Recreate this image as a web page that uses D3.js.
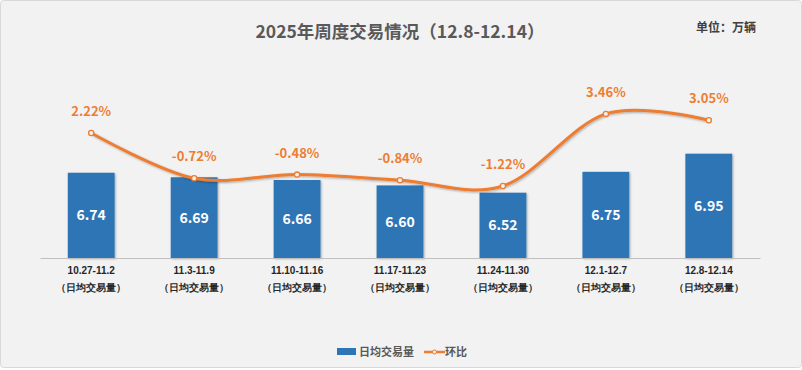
<!DOCTYPE html>
<html>
<head>
<meta charset="utf-8">
<script src="https://cdn.jsdelivr.net/npm/d3@7"></script>
<style>
  body { margin: 0; background: #fff; }
  svg { display: block; font-family: "Noto Sans CJK SC", "Open Sans", sans-serif; }
</style>
</head>
<body>
<div id="chart"></div>
<script>
var svgWidth = 802;
var svgHeight = 370;

var weeks = ["10.27-11.2", "11.3-11.9", "11.10-11.16", "11.17-11.23", "11.24-11.30", "12.1-12.7", "12.8-12.14"];
var dailyVolume = [6.74, 6.69, 6.66, 6.60, 6.52, 6.75, 6.95];
var momChange = [2.22, -0.72, -0.48, -0.84, -1.22, 3.46, 3.05];

var svg = d3.select("#chart")
    .append("svg")
    .attr("width", svgWidth)
    .attr("height", svgHeight);

// drop shadow for marks
var defs = svg.append("defs");
var shadow = defs.append("filter").attr("id", "shadow")
    .attr("x", "-20%").attr("y", "-20%").attr("width", "140%").attr("height", "140%");
shadow.append("feDropShadow")
    .attr("dx", 1).attr("dy", 1).attr("stdDeviation", 1.2)
    .attr("flood-color", "#000").attr("flood-opacity", 0.3);

// background card
svg.append("rect")
    .attr("x", 0.5).attr("y", 0.5)
    .attr("width", svgWidth - 1).attr("height", svgHeight - 3)
    .attr("rx", 3)
    .attr("fill", "#f2f2f2")
    .attr("stroke", "#d9d9d9");

var xScale = d3.scaleBand()
    .domain(weeks)
    .range([40, 760])
    .paddingInner(0.545)
    .paddingOuter(0.27);

var yBar = d3.scaleLinear()
    .domain([5.8, 7.4])
    .range([258, 258 - 1.6 * 90.7]);

var yLine = d3.scaleLinear()
    .domain([0, 4])
    .range([167.2, 167.2 - 4 * 15.4]);

// Title
svg.append("text")
    .attr("x", 400).attr("y", 38)
    .attr("text-anchor", "middle")
    .attr("font-size", 17.5)
    .attr("font-weight", "bold")
    .attr("fill", "#595959")
    .text("2025年周度交易情况（12.8-12.14）");

svg.append("text")
    .attr("x", 756).attr("y", 32)
    .attr("text-anchor", "end")
    .attr("font-size", 12)
    .attr("font-weight", "bold")
    .attr("fill", "#404040")
    .text("单位：万辆");

// Bars
svg.selectAll(".bar")
    .data(dailyVolume)
    .enter()
    .append("rect")
    .attr("class", "bar")
    .attr("x", (d, i) => xScale(weeks[i]))
    .attr("y", d => yBar(d))
    .attr("width", xScale.bandwidth())
    .attr("height", d => yBar.range()[0] - yBar(d))
    .attr("fill", "#2e75b6")
    .attr("filter", "url(#shadow)");

svg.selectAll(".barLabel")
    .data(dailyVolume)
    .enter()
    .append("text")
    .attr("class", "barLabel")
    .attr("x", (d, i) => xScale(weeks[i]) + xScale.bandwidth() / 2)
    .attr("y", d => (yBar(d) + yBar.range()[0]) / 2 + 5)
    .attr("text-anchor", "middle")
    .attr("font-size", 14)
    .attr("font-weight", "bold")
    .attr("fill", "#fff")
    .text(d => d.toFixed(2));

// Bottom axis
var bottomAxis = d3.axisBottom(xScale).tickSize(0).tickPadding(0).tickFormat("");
var axisG = svg.append("g")
    .attr("transform", `translate(0, ${yBar.range()[0]})`)
    .call(bottomAxis);
axisG.select(".domain").attr("stroke", "#bfbfbf").attr("stroke-width", 1.2);

axisG.selectAll(".tick").each(function(d) {
    var g = d3.select(this);
    g.append("text")
        .attr("y", 16)
        .attr("text-anchor", "middle")
        .attr("font-size", 10)
        .attr("font-weight", "bold")
        .attr("fill", "#262626")
        .text(d);
    g.append("text")
        .attr("y", 33)
        .attr("text-anchor", "middle")
        .attr("font-size", 9.5)
        .attr("font-weight", "bold")
        .attr("fill", "#262626")
        .text("（日均交易量）");
});

// Line
var lineGen = d3.line()
    .x((d, i) => xScale(weeks[i]) + xScale.bandwidth() / 2)
    .y(d => yLine(d))
    .curve(d3.curveCatmullRom.alpha(0));

svg.append("path")
    .datum(momChange)
    .attr("d", lineGen)
    .attr("fill", "none")
    .attr("stroke", "#ed7d31")
    .attr("stroke-width", 3)
    .attr("filter", "url(#shadow)");

svg.selectAll(".pt")
    .data(momChange)
    .enter()
    .append("circle")
    .attr("class", "pt")
    .attr("cx", (d, i) => xScale(weeks[i]) + xScale.bandwidth() / 2)
    .attr("cy", d => yLine(d))
    .attr("r", 2.6)
    .attr("fill", "#f2f2f2")
    .attr("stroke", "#ed7d31")
    .attr("stroke-width", 1.3);

svg.selectAll(".ptLabel")
    .data(momChange)
    .enter()
    .append("text")
    .attr("class", "ptLabel")
    .attr("x", (d, i) => xScale(weeks[i]) + xScale.bandwidth() / 2)
    .attr("y", d => yLine(d) - 17)
    .attr("text-anchor", "middle")
    .attr("font-size", 13)
    .attr("font-weight", "bold")
    .attr("fill", "#ed7d31")
    .text(d => d.toFixed(2) + "%");

// Legend
var legend = svg.append("g").attr("transform", "translate(337, 352)");
legend.append("rect")
    .attr("x", 0).attr("y", -4)
    .attr("width", 19).attr("height", 7)
    .attr("fill", "#2e75b6");
legend.append("text")
    .attr("x", 22).attr("y", 4)
    .attr("font-size", 11)
    .attr("font-weight", "bold")
    .attr("fill", "#595959")
    .text("日均交易量");
legend.append("line")
    .attr("x1", 87).attr("x2", 108)
    .attr("y1", 0).attr("y2", 0)
    .attr("stroke", "#ed7d31")
    .attr("stroke-width", 2.5);
legend.append("circle")
    .attr("cx", 97.5).attr("cy", 0).attr("r", 2)
    .attr("fill", "#f2f2f2")
    .attr("stroke", "#ed7d31");
legend.append("text")
    .attr("x", 108).attr("y", 4)
    .attr("font-size", 11)
    .attr("font-weight", "bold")
    .attr("fill", "#595959")
    .text("环比");
</script>
</body>
</html>
